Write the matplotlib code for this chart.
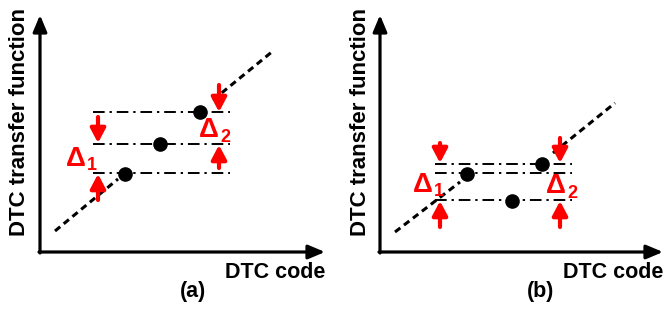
"""Sketch of DTC transfer function: monotonic (a) vs non-monotonic (b) errors."""
import matplotlib
matplotlib.use('Agg')
import matplotlib.pyplot as plt

plt.rcParams.update({
    'font.family': ['Liberation Sans', 'DejaVu Sans'],
    'font.weight': 'bold',
})

RED = '#FF0000'

# panel (a): monotonic
a_diag_low = ([1.5, 7.8], [2.1, 7.3])
a_diag_high = ([17.3, 23.3], [15.2, 20.1])
a_pts_x = [8.5, 12.0, 16.0]
a_pts_y = [7.8, 10.8, 14.0]
a_levels = [14.0, 10.8, 7.9]
a_level_span = [5.3, 19.0]
# arrows: (x, tail_y, tip_y)
a_arrows = [(5.8, 13.5, 10.9), (5.8, 5.2, 7.8), (17.9, 16.7, 14.0), (17.9, 8.4, 10.7)]
a_deltas = [(4.6, 9.2, '1'), (17.9, 12.1, '2')]

# panel (b): non-monotonic
b_diag_low = ([1.5, 8.0], [2.0, 7.0])
b_diag_high = ([17.3, 23.5], [9.9, 14.9])
b_pts_x = [8.7, 13.2, 16.2]
b_pts_y = [7.8, 5.1, 8.8]
b_levels = [8.8, 7.9, 5.2]
b_level_span = [5.5, 19.2]
b_arrows = [(6.0, 10.9, 8.9), (6.0, 2.5, 5.1), (18.0, 11.4, 8.9), (18.0, 2.5, 5.1)]
b_deltas = [(5.3, 6.6, '1'), (18.6, 6.5, '2')]

W, H = 669, 316


def draw_panel(rect, xmax, diag_low, diag_high, px, py, levels, span,
               arrows, deltas, tag, tag_x):
    ax = fig.add_axes(rect)
    ax.set_xlim(0, xmax)
    ax.set_ylim(0, 23.7)
    ax.axis('off')

    # axes as arrows
    head = '-|>,head_length=1.0,head_width=0.42'
    ax.annotate('', xy=(xmax, 0), xytext=(-0.1, 0),
                arrowprops=dict(arrowstyle=head, color='black', lw=2.3,
                                mutation_scale=10, shrinkA=0, shrinkB=0),
                annotation_clip=False)
    ax.annotate('', xy=(0, 23.7), xytext=(0, -0.1),
                arrowprops=dict(arrowstyle=head, color='black', lw=2.3,
                                mutation_scale=10, shrinkA=0, shrinkB=0),
                annotation_clip=False)

    # ideal transfer (dashed)
    for xs, ys in (diag_low, diag_high):
        ax.plot(xs, ys, color='black', lw=2.2, dashes=(2.2, 1.5))

    # level lines (dash-dot)
    for lv in levels:
        ax.plot(span, [lv, lv], color='black', lw=1.4, dashes=(6, 2.5, 1.2, 2.5))

    ax.plot(px, py, 'o', color='black', markersize=9.5, zorder=4)

    for x, y0, y1 in arrows:
        ax.annotate('', xy=(x, y1), xytext=(x, y0),
                    arrowprops=dict(arrowstyle='-|>,head_length=0.85,head_width=0.45',
                                    color=RED, lw=3.0, mutation_scale=10,
                                    shrinkA=0, shrinkB=0), zorder=5)

    for x, y, sub in deltas:
        ax.text(x, y + 0.1, 'Δ', color=RED, fontsize=20, fontweight='bold',
                ha='right', va='center')
        ax.text(x + 0.1, y - 0.6, sub, color=RED, fontsize=13, fontweight='bold',
                ha='left', va='center')

    ax.text(xmax, -2.0, 'DTC code', fontsize=15.5, fontweight='bold',
            ha='right', va='center', clip_on=False)
    ax.text(-2.0, 13.0, 'DTC transfer function', fontsize=16, fontweight='bold',
            rotation=90, ha='center', va='center', clip_on=False)
    ax.text(tag_x, -3.9, tag, fontsize=15.5, fontweight='bold',
            ha='center', va='center', clip_on=False)
    return ax


fig = plt.figure(figsize=(W / 100, H / 100), dpi=100)

draw_panel([40 / W, 64 / H, 285 / W, 237 / H], 28.5, a_diag_low, a_diag_high,
           a_pts_x, a_pts_y, a_levels, a_level_span, a_arrows, a_deltas, '(a)', 15.3)
draw_panel([380 / W, 64 / H, 283 / W, 237 / H], 28.3, b_diag_low, b_diag_high,
           b_pts_x, b_pts_y, b_levels, b_level_span, b_arrows, b_deltas, '(b)', 16.1)

fig.savefig('out.png', dpi=100)
